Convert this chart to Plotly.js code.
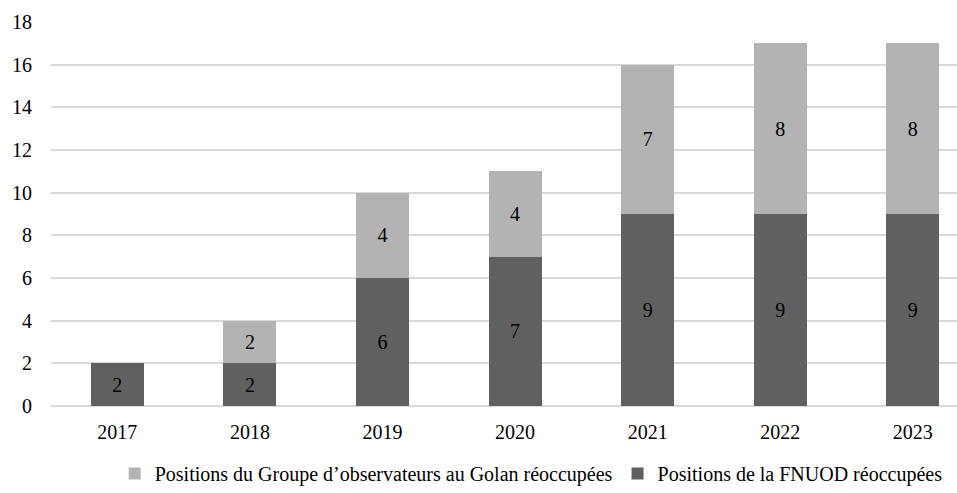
<!DOCTYPE html>
<html><head><meta charset="utf-8">
<script src="https://cdn.plot.ly/plotly-3.0.1.min.js"></script>
<style>html,body{margin:0;padding:0;background:#fff;}#chart{width:957px;height:493px;}</style>
</head><body><div id="chart"></div>
<script>
const years = ['2017','2018','2019','2020','2021','2022','2023'];
const fnuod = [2, 2, 6, 7, 9, 9, 9];
const gog = [0, 2, 4, 4, 7, 8, 8];
const fnuodName = 'Positions de la FNUOD réoccupées';
const gogName = 'Positions du Groupe d’observateurs au Golan réoccupées';
const font = {family: 'Times New Roman', size: 20, color: '#000'};
const traces = [
  {type:'bar', x: years, y: fnuod, name: fnuodName, marker:{color:'#606060'}, width:0.4,
   text: fnuod.map(String), textposition:'inside', insidetextanchor:'middle',
   textfont: Object.assign({}, font), hoverinfo:'none'},
  {type:'bar', x: years, y: gog, name: gogName, marker:{color:'#b3b3b3'}, width:0.4,
   text: gog.map(v => v ? String(v) : ''), textposition:'inside', insidetextanchor:'middle',
   textfont: Object.assign({}, font), hoverinfo:'none'}
];
const layout = {
  width: 957, height: 493, barmode: 'stack',
  margin: {l: 51, r: 0, t: 22, b: 87},
  paper_bgcolor: '#fff', plot_bgcolor: '#fff',
  font: font, showlegend: true,
  uniformtext: {mode: 'show', minsize: 20},
  xaxis: {type:'category', range: [-0.5, 6.333], showgrid:false, zeroline:false,
          showline:false, ticks:'', tickfont: font, ticklabelstandoff: 12, fixedrange:true},
  yaxis: {range: [0, 18], dtick: 2, showgrid: true, gridcolor:'#d9d9d9', gridwidth: 2,
          zeroline: true, zerolinecolor:'#d9d9d9', zerolinewidth: 2, showline:false, ticks:'',
          ticklabelstandoff: 18, tickfont: font, fixedrange:true},
  legend: {orientation:'h', traceorder:'reversed', x: 0.53, xanchor:'center', y: -0.2266, yanchor:'bottom',
           font: font, itemwidth: 30, tracegroupgap: 0}
};
Plotly.newPlot('chart', traces, layout, {displayModeBar:false, staticPlot:true});
</script></body></html>
